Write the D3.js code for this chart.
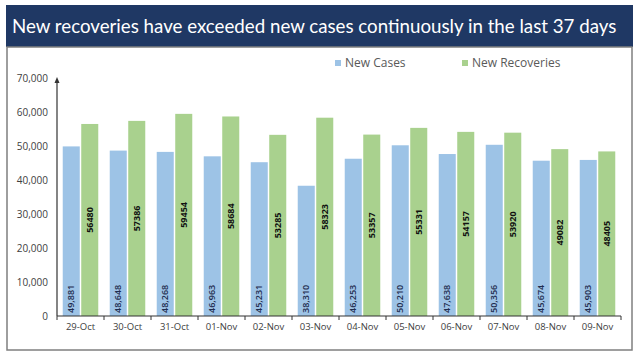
<!DOCTYPE html>
<html><head><meta charset="utf-8">
<script src="https://cdn.jsdelivr.net/npm/d3@7"></script>
<style>body{margin:0;background:#fff}svg{display:block}</style>
</head><body><svg id="c" width="640" height="357"></svg>
<script>
const title = "New recoveries have exceeded new cases continuously in the last 37 days";
const categories = ["29-Oct","30-Oct","31-Oct","01-Nov","02-Nov","03-Nov","04-Nov","05-Nov","06-Nov","07-Nov","08-Nov","09-Nov"];
const seriesNames = ["New Cases","New Recoveries"];
const newCases = [49881,48648,48268,46963,45231,38310,46253,50210,47638,50356,45674,45903];
const newRecoveries = [56480,57386,59454,58684,53285,58323,53357,55331,54157,53920,49082,48405];
const yTicks = [0,10000,20000,30000,40000,50000,60000,70000];
const colors = ["#9dc3e6","#a9d18e"];

const svg = d3.select("#c");
// title banner
svg.append("rect").attr("x",6).attr("y",5).attr("width",627).attr("height",42).attr("fill","#1f3864");
const tt = svg.append("text").attr("x",12).attr("y",33).attr("fill","#fff")
  .style("font-family","Lato, 'Open Sans', sans-serif").style("font-size","19px").text(title);
const tw = tt.node().getComputedTextLength();
if (tw > 605) tt.style("font-size", (19*605/tw).toFixed(2)+"px");
// box
svg.append("rect").attr("x",7).attr("y",47).attr("width",625).attr("height",303)
  .attr("fill","#fff").attr("stroke","#7f7f7f").attr("stroke-width",1.5);

const x0 = d3.scaleBand().domain(categories).range([57,621]).padding(0);
const x1 = d3.scaleBand().domain(seriesNames).range([0,x0.bandwidth()]).paddingInner(0.08).paddingOuter(0.31);
const y = d3.scaleLinear().domain([0,70000]).range([316,78]);

const data = categories.map((c,i)=>({c, vals:[newCases[i],newRecoveries[i]]}));
const g = svg.append("g");
data.forEach(d=>{
  d.vals.forEach((v,j)=>{
    const s = seriesNames[j];
    g.append("rect").attr("x",x0(d.c)+x1(s)).attr("y",y(v)).attr("width",x1.bandwidth())
      .attr("height",y(0)-y(v)).attr("fill",colors[j]);
  });
});
// labels
const fmt = d3.format(",");
data.forEach(d=>{
  const cx0 = x0(d.c)+x1(seriesNames[0])+x1.bandwidth()/2;
  const cy0 = y(0)-3;
  g.append("text").attr("transform",`translate(${cx0+3.2},${cy0}) rotate(-90)`)
    .attr("text-anchor","start").attr("fill","#1f2d4f")
    .style("font-family","'Open Sans', sans-serif").style("font-size","9px").style("font-weight","600")
    .text(fmt(d.vals[0]));
  const cx1 = x0(d.c)+x1(seriesNames[1])+x1.bandwidth()/2;
  const cy1 = (y(d.vals[1])+y(0))/2;
  g.append("text").attr("transform",`translate(${cx1+3.2},${cy1}) rotate(-90)`)
    .attr("text-anchor","middle").attr("fill","#111")
    .style("font-family","'Open Sans', sans-serif").style("font-size","9px").style("font-weight","700")
    .text(d.vals[1]);
});

// y axis
const yAxis = d3.axisLeft(y).tickValues(yTicks).tickSize(0).tickPadding(9).tickFormat(d3.format(","));
const ya = svg.append("g").attr("transform","translate(57,0)").call(yAxis);
ya.select(".domain").remove();
ya.selectAll("text").attr("fill","#404040").style("font-family","'Open Sans', sans-serif").style("font-size","10px");
svg.append("line").attr("x1",57).attr("x2",57).attr("y1",316).attr("y2",80).attr("stroke","#333").attr("stroke-width",1.2);
svg.append("path").attr("d","M57,77 L54.5,83 L59.5,83 Z").attr("fill","#333");

// x axis
const xAxis = d3.axisBottom(x0).tickSize(0).tickPadding(7);
const xa = svg.append("g").attr("transform","translate(0,316)").call(xAxis);
xa.select(".domain").remove();
xa.selectAll("text").attr("fill","#404040").style("font-family","'Open Sans', sans-serif").style("font-size","9.5px");
svg.append("line").attr("x1",57).attr("x2",621).attr("y1",316).attr("y2",316).attr("stroke","#333").attr("stroke-width",1.2);
svg.selectAll(".bt").data(categories.concat(["end"])).enter().append("line")
  .attr("x1",(d,i)=>57+i*x0.step()).attr("x2",(d,i)=>57+i*x0.step())
  .attr("y1",316).attr("y2",320).attr("stroke","#333");

// legend
const leg = svg.append("g");
[[335,"New Cases"],[462,"New Recoveries"]].forEach((l,i)=>{
  leg.append("rect").attr("x",l[0]).attr("y",60).attr("width",6).attr("height",6).attr("fill",colors[i]);
  leg.append("text").attr("x",l[0]+10).attr("y",67).attr("fill","#595959")
    .style("font-family","'Open Sans', sans-serif").style("font-size","12px").text(l[1]);
});
</script></body></html>
